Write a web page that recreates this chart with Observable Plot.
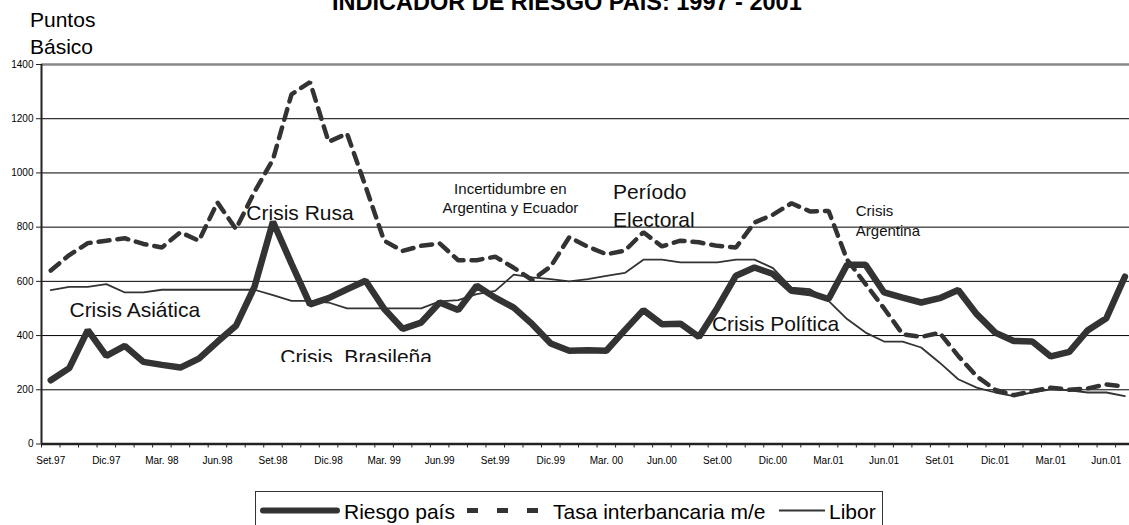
<!DOCTYPE html>
<html>
<head>
<meta charset="utf-8">
<script src="https://cdn.jsdelivr.net/npm/d3@7"></script>
<script src="https://cdn.jsdelivr.net/npm/@observablehq/plot@0.6"></script>
<style>
  body { margin: 0; background: #fff; }
  #wrap { position: relative; width: 1129px; height: 525px; overflow: hidden; background: #fff;
          font-family: "Liberation Sans", Arial, sans-serif; color: #000; }
  #title { position: absolute; left: 332px; top: -9px; font-weight: bold; font-size: 23.5px;
           line-height: 23.5px; white-space: nowrap; }
  #ylab { position: absolute; left: 30px; top: 5.6px; font-size: 21px; line-height: 27.6px; }
  #chart { position: absolute; left: 0; top: 0; }
  #legend { position: absolute; left: 255px; top: 491px; width: 626px; height: 60px; border: 1px solid #333; }
  #legend svg { position: absolute; left: 0; top: 0; }
  #legend span { position: absolute; top: 8.7px; font-size: 21px; line-height: 21px; white-space: nowrap; }
  svg text { white-space: pre; }
</style>
</head>
<body>
<div id="wrap">
  <div id="chart"></div>
  <div id="title"></div>
  <div id="ylab"></div>
  <div id="legend"></div>
</div>
<script>
// ---- data (monthly, Set.97 .. Jul.02) ----
const tickLabels = ["Set.97","Dic.97","Mar. 98","Jun.98","Set.98","Dic.98","Mar. 99","Jun.99","Set.99","Dic.99",
                    "Mar. 00","Jun.00","Set.00","Dic.00","Mar.01","Jun.01","Set.01","Dic.01","Mar.01","Jun.01"];
const riesgo = [235,280,420,325,362,303,292,282,315,377,436,580,820,665,515,538,571,602,499,425,
                448,522,494,584,540,503,442,371,344,346,344,420,494,442,444,395,503,621,651,627,
                565,557,535,661,661,559,540,522,538,568,479,411,380,378,323,340,420,464,617];
const tasa   = [640,697,741,750,759,738,725,781,750,891,793,930,1050,1290,1335,1115,1145,950,750,712,
                731,740,678,678,691,650,605,655,763,728,700,713,781,729,750,744,731,725,817,846,
                888,858,860,680,590,500,405,395,410,325,250,200,180,195,208,200,205,220,212];
const libor  = [568,580,580,590,559,559,569,569,569,569,569,569,549,528,528,522,500,500,500,500,
                500,526,531,553,565,625,615,608,600,608,620,631,680,680,670,670,670,680,680,649,
                577,571,528,461,411,378,378,356,300,239,208,190,177,190,202,198,190,190,177];
const seriesNames = ["Riesgo país", "Tasa interbancaria m/e", "Libor"];
const yTicks = [0,200,400,600,800,1000,1200,1400];
const titleText = "INDICADOR DE RIESGO PAIS: 1997 - 2001";
const yLabelText = ["Puntos", "Básico"];
// annotations (data coordinates: month index, value)
const noteText = ["Crisis Asiática","Crisis Rusa","Crisis  Brasileña","Período\nElectoral","Crisis Política",
                  "Incertidumbre en\nArgentina y Ecuador","Crisis\nArgentina"];
const noteX = [1.01, 10.56, 12.39, 30.36, 35.7, 24.82, 43.47];
const noteY = [500, 858, 327, 885, 448, 910, 829];

// ---- build ----
const data = riesgo.map((v, i) => ({i, riesgo: v, tasa: tasa[i], libor: libor[i]}));
const notes = noteText.map((t, k) => ({t, x: noteX[k], y: noteY[k]}));
const boundaries = d3.range(0, riesgo.length + 1).map(k => k - 0.5);
const labelIdx = tickLabels.map((_, k) => k * 3);
const ink = "#333";

const chart = Plot.plot({
  width: 1129, height: 480,
  marginLeft: 41, marginRight: 0, marginTop: 64, marginBottom: 36.5,
  x: {type: "linear", domain: [-0.5, 58.25]},
  y: {type: "linear", domain: [0, 1400]},
  style: {fontFamily: '"Liberation Sans", Arial, sans-serif', background: "white", color: "#000"},
  marks: [
    Plot.ruleY(yTicks.filter(v => v > 0 && v < 1400), {stroke: "#000", strokeWidth: 1}),
    Plot.ruleY([1400], {stroke: "#888", strokeWidth: 2.5}),
    Plot.axisY({ticks: yTicks, tickSize: 5, tickPadding: 3, fontSize: 10, stroke: "#222", label: null,
                tickFormat: d => String(d)}),
    Plot.axisX({ticks: boundaries, tickSize: 4, tickFormat: () => "", stroke: "#222", label: null}),
    Plot.axisX({ticks: labelIdx, tickSize: 0, tickPadding: 13, fontSize: 10, label: null,
                tickFormat: i => tickLabels[Math.round(i / 3)]}),
    Plot.line(data, {x: "i", y: "riesgo", stroke: ink, strokeWidth: 6.5, strokeLinejoin: "miter"}),
    Plot.line(data, {x: "i", y: "tasa", stroke: ink, strokeWidth: 4.5, strokeDasharray: "11,8", strokeLinejoin: "miter"}),
    Plot.line(data, {x: "i", y: "libor", stroke: ink, strokeWidth: 1.8}),
    Plot.ruleX([-0.5], {stroke: "#222", strokeWidth: 2}),
    Plot.ruleY([0], {stroke: "#222", strokeWidth: 2.5}),
    Plot.text(notes.slice(0, 5), {x: "x", y: "y", text: "t", textAnchor: "start", lineAnchor: "middle",
              fontSize: 21, lineHeight: 1.31, fill: "#111"}),
    Plot.text(notes.slice(5, 6), {x: "x", y: "y", text: "t", textAnchor: "middle", lineAnchor: "middle",
              fontSize: 15, lineHeight: 1.31, fill: "#111"}),
    Plot.text(notes.slice(6, 7), {x: "x", y: "y", text: "t", textAnchor: "start", lineAnchor: "middle",
              fontSize: 15, lineHeight: 1.38, fill: "#111"})
  ]
});
document.getElementById("chart").appendChild(chart);

// clip the lower edge of the "Crisis  Brasileña" label, as in the original
const brText = [...chart.querySelectorAll("text")].find(t => t.textContent === noteText[2]);
if (brText) {
  const bb = brText.getBBox();
  const baseline = bb.y + bb.height * 0.905 / 1.117;
  const ns = "http://www.w3.org/2000/svg";
  const defs = document.createElementNS(ns, "defs");
  const cp = document.createElementNS(ns, "clipPath");
  cp.setAttribute("id", "brclip");
  const r = document.createElementNS(ns, "rect");
  r.setAttribute("x", bb.x - 5); r.setAttribute("y", bb.y - 5);
  r.setAttribute("width", bb.width + 10); r.setAttribute("height", baseline - 1.8 - (bb.y - 5));
  cp.appendChild(r); defs.appendChild(cp); chart.insertBefore(defs, chart.firstChild);
  brText.setAttribute("clip-path", "url(#brclip)");
}

document.getElementById("title").textContent = titleText;
document.getElementById("ylab").innerHTML = yLabelText.join("<br>");

// legend
const lg = document.getElementById("legend");
const lsvg = d3.create("svg").attr("width", 626).attr("height", 34);
lsvg.append("line").attr("x1", 7).attr("x2", 81).attr("y1", 18.5).attr("y2", 18.5)
  .attr("stroke", ink).attr("stroke-width", 6).attr("stroke-linecap", "round");
lsvg.append("line").attr("x1", 211).attr("x2", 283).attr("y1", 18.5).attr("y2", 18.5)
  .attr("stroke", ink).attr("stroke-width", 5).attr("stroke-dasharray", "11,19");
lsvg.append("line").attr("x1", 523).attr("x2", 569).attr("y1", 18.5).attr("y2", 18.5)
  .attr("stroke", ink).attr("stroke-width", 2);
lg.appendChild(lsvg.node());
[88, 297, 573].forEach((left, k) => {
  const s = document.createElement("span");
  s.style.left = left + "px";
  s.textContent = seriesNames[k];
  lg.appendChild(s);
});
</script>
</body>
</html>
